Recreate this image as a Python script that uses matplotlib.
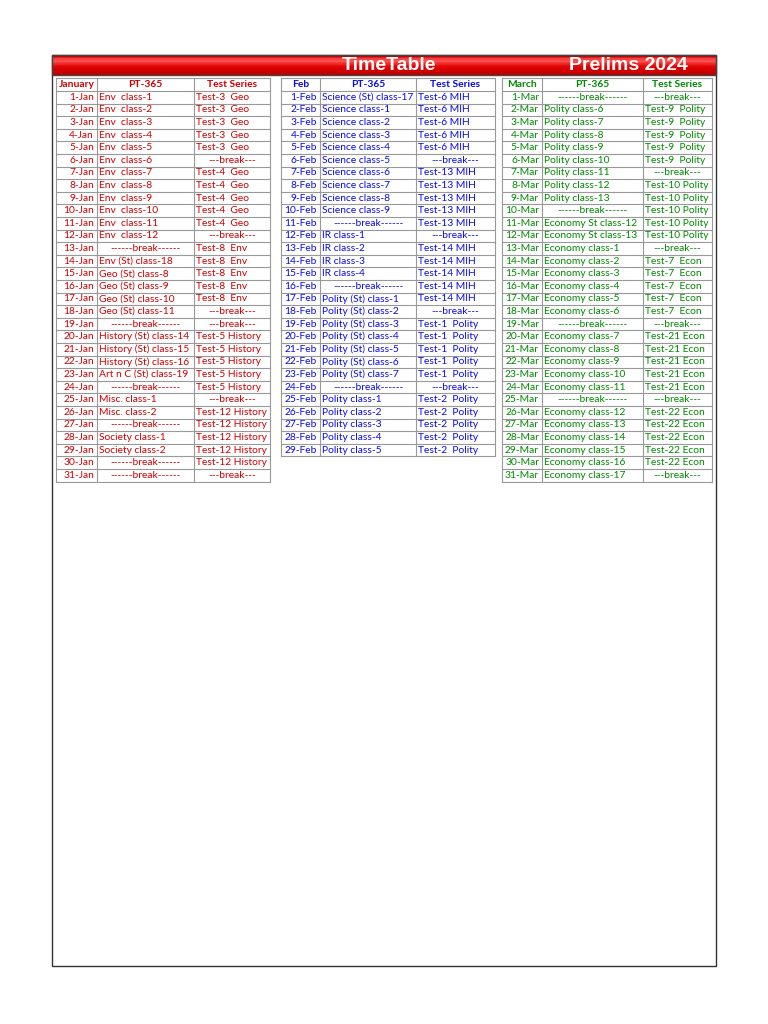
import numpy as np
import matplotlib.pyplot as plt
from matplotlib.patches import Rectangle
from matplotlib.colors import LinearSegmentedColormap

plt.rcParams['font.family'] = ['Lato', 'DejaVu Sans']

BRK = '------break------'
TBRK = '---break---'

jan_dates = [f'{d}-Jan' for d in range(1, 32)]
jan_pt = ['Env  class-1', 'Env  class-2', 'Env  class-3', 'Env  class-4', 'Env  class-5', 'Env  class-6',
          'Env  class-7', 'Env  class-8', 'Env  class-9', 'Env  class-10', 'Env  class-11', 'Env  class-12',
          BRK, 'Env (St) class-18', 'Geo (St) class-8', 'Geo (St) class-9', 'Geo (St) class-10',
          'Geo (St) class-11', BRK, 'History (St) class-14', 'History (St) class-15',
          'History (St) class-16', 'Art n C (St) class-19', BRK, 'Misc. class-1', 'Misc. class-2', BRK,
          'Society class-1', 'Society class-2', BRK, BRK]
jan_test = ['Test-3  Geo'] * 5 + [TBRK] + ['Test-4  Geo'] * 5 + [TBRK] + ['Test-8  Env'] * 5 + [TBRK, TBRK] \
    + ['Test-5 History'] * 5 + [TBRK] + ['Test-12 History'] * 5 + [TBRK]

feb_dates = [f'{d}-Feb' for d in range(1, 30)]
feb_pt = ['Science (St) class-17'] + [f'Science class-{i}' for i in range(1, 10)] + [BRK] \
    + [f'IR class-{i}' for i in range(1, 5)] + [BRK] + [f'Polity (St) class-{i}' for i in range(1, 8)] \
    + [BRK] + [f'Polity class-{i}' for i in range(1, 6)]
feb_test = ['Test-6 MIH'] * 5 + [TBRK] + ['Test-13 MIH'] * 5 + [TBRK] + ['Test-14 MIH'] * 5 + [TBRK] \
    + ['Test-1  Polity'] * 5 + [TBRK] + ['Test-2  Polity'] * 5

mar_dates = [f'{d}-Mar' for d in range(1, 32)]
mar_pt = [BRK] + [f'Polity class-{i}' for i in range(6, 14)] + [BRK, 'Economy St class-12', 'Economy St class-13'] \
    + [f'Economy class-{i}' for i in range(1, 7)] + [BRK] + [f'Economy class-{i}' for i in range(7, 12)] \
    + [BRK] + [f'Economy class-{i}' for i in range(12, 18)]
mar_test = [TBRK] + ['Test-9  Polity'] * 5 + [TBRK] + ['Test-10 Polity'] * 5 + [TBRK] + ['Test-7  Econ'] * 5 \
    + [TBRK] + ['Test-21 Econ'] * 5 + [TBRK] + ['Test-22 Econ'] * 5 + [TBRK]

tables = [
    ('January', jan_dates, jan_pt, jan_test, '#d00000', [56, 97, 194, 270]),
    ('Feb', feb_dates, feb_pt, feb_test, '#0a0aee', [281, 320, 416, 495]),
    ('March', mar_dates, mar_pt, mar_test, '#008a00', [502, 542, 643, 712]),
]

fig = plt.figure(figsize=(7.68, 10.24), dpi=100)
ax = fig.add_axes([0, 0, 1, 1])
ax.set_xlim(0, 768)
ax.set_ylim(1024, 0)
ax.axis('off')

# outer frame and red title bar
ax.add_patch(Rectangle((52, 55), 664, 911, fill=False, ec='#333333', lw=1))
red_map = LinearSegmentedColormap.from_list('bar', ['#900000', '#e00000', '#ff5050'])
grad = np.array([0.3, 0.9, 1.0, 0.75, 0.55, 0.45, 0.4, 0.3])[:, None]
ax.imshow(grad, cmap=red_map, vmin=0, vmax=1, extent=[52, 716, 75, 55], aspect='auto', zorder=1)
ax.add_patch(Rectangle((52, 55), 664, 20, fill=False, ec='#444444', lw=1, zorder=2))
ax.text(389, 65, 'TimeTable', color='white', fontsize=14, fontweight='bold',
        family='Liberation Sans', ha='center', va='center', zorder=3)
ax.text(628, 65, 'Prelims 2024', color='white', fontsize=14, fontweight='bold',
        family='Liberation Sans', ha='center', va='center', zorder=3)

top, hh, rh = 78, 13, 12.6
fs = 7.4
for month, dates, pts, tests, col, xs in tables:
    n = len(dates)
    bottom = top + hh + n * rh
    # grid
    for x in xs:
        ax.plot([x, x], [top, bottom], color='#999999', lw=0.8)
    ys = [top, top + hh] + [top + hh + (i + 1) * rh for i in range(n)]
    for y in ys:
        ax.plot([xs[0], xs[-1]], [y, y], color='#999999', lw=0.8)
    yc = top + hh / 2
    for k, h in enumerate([month, 'PT-365', 'Test Series']):
        ax.text((xs[k] + xs[k + 1]) / 2, yc, h, color=col, fontsize=fs, fontweight='bold',
                ha='center', va='center')
    for i in range(n):
        y = top + hh + (i + 0.5) * rh
        ax.text(xs[1] - 3, y, dates[i], color=col, fontsize=fs, ha='right', va='center')
        for k, t in [(1, pts[i]), (2, tests[i])]:
            if 'break' in t:
                ax.text((xs[k] + xs[k + 1]) / 2, y, t, color=col, fontsize=fs, ha='center', va='center')
            else:
                ax.text(xs[k] + 2, y, t, color=col, fontsize=fs, ha='left', va='center')

fig.savefig('out.png', dpi=100)
